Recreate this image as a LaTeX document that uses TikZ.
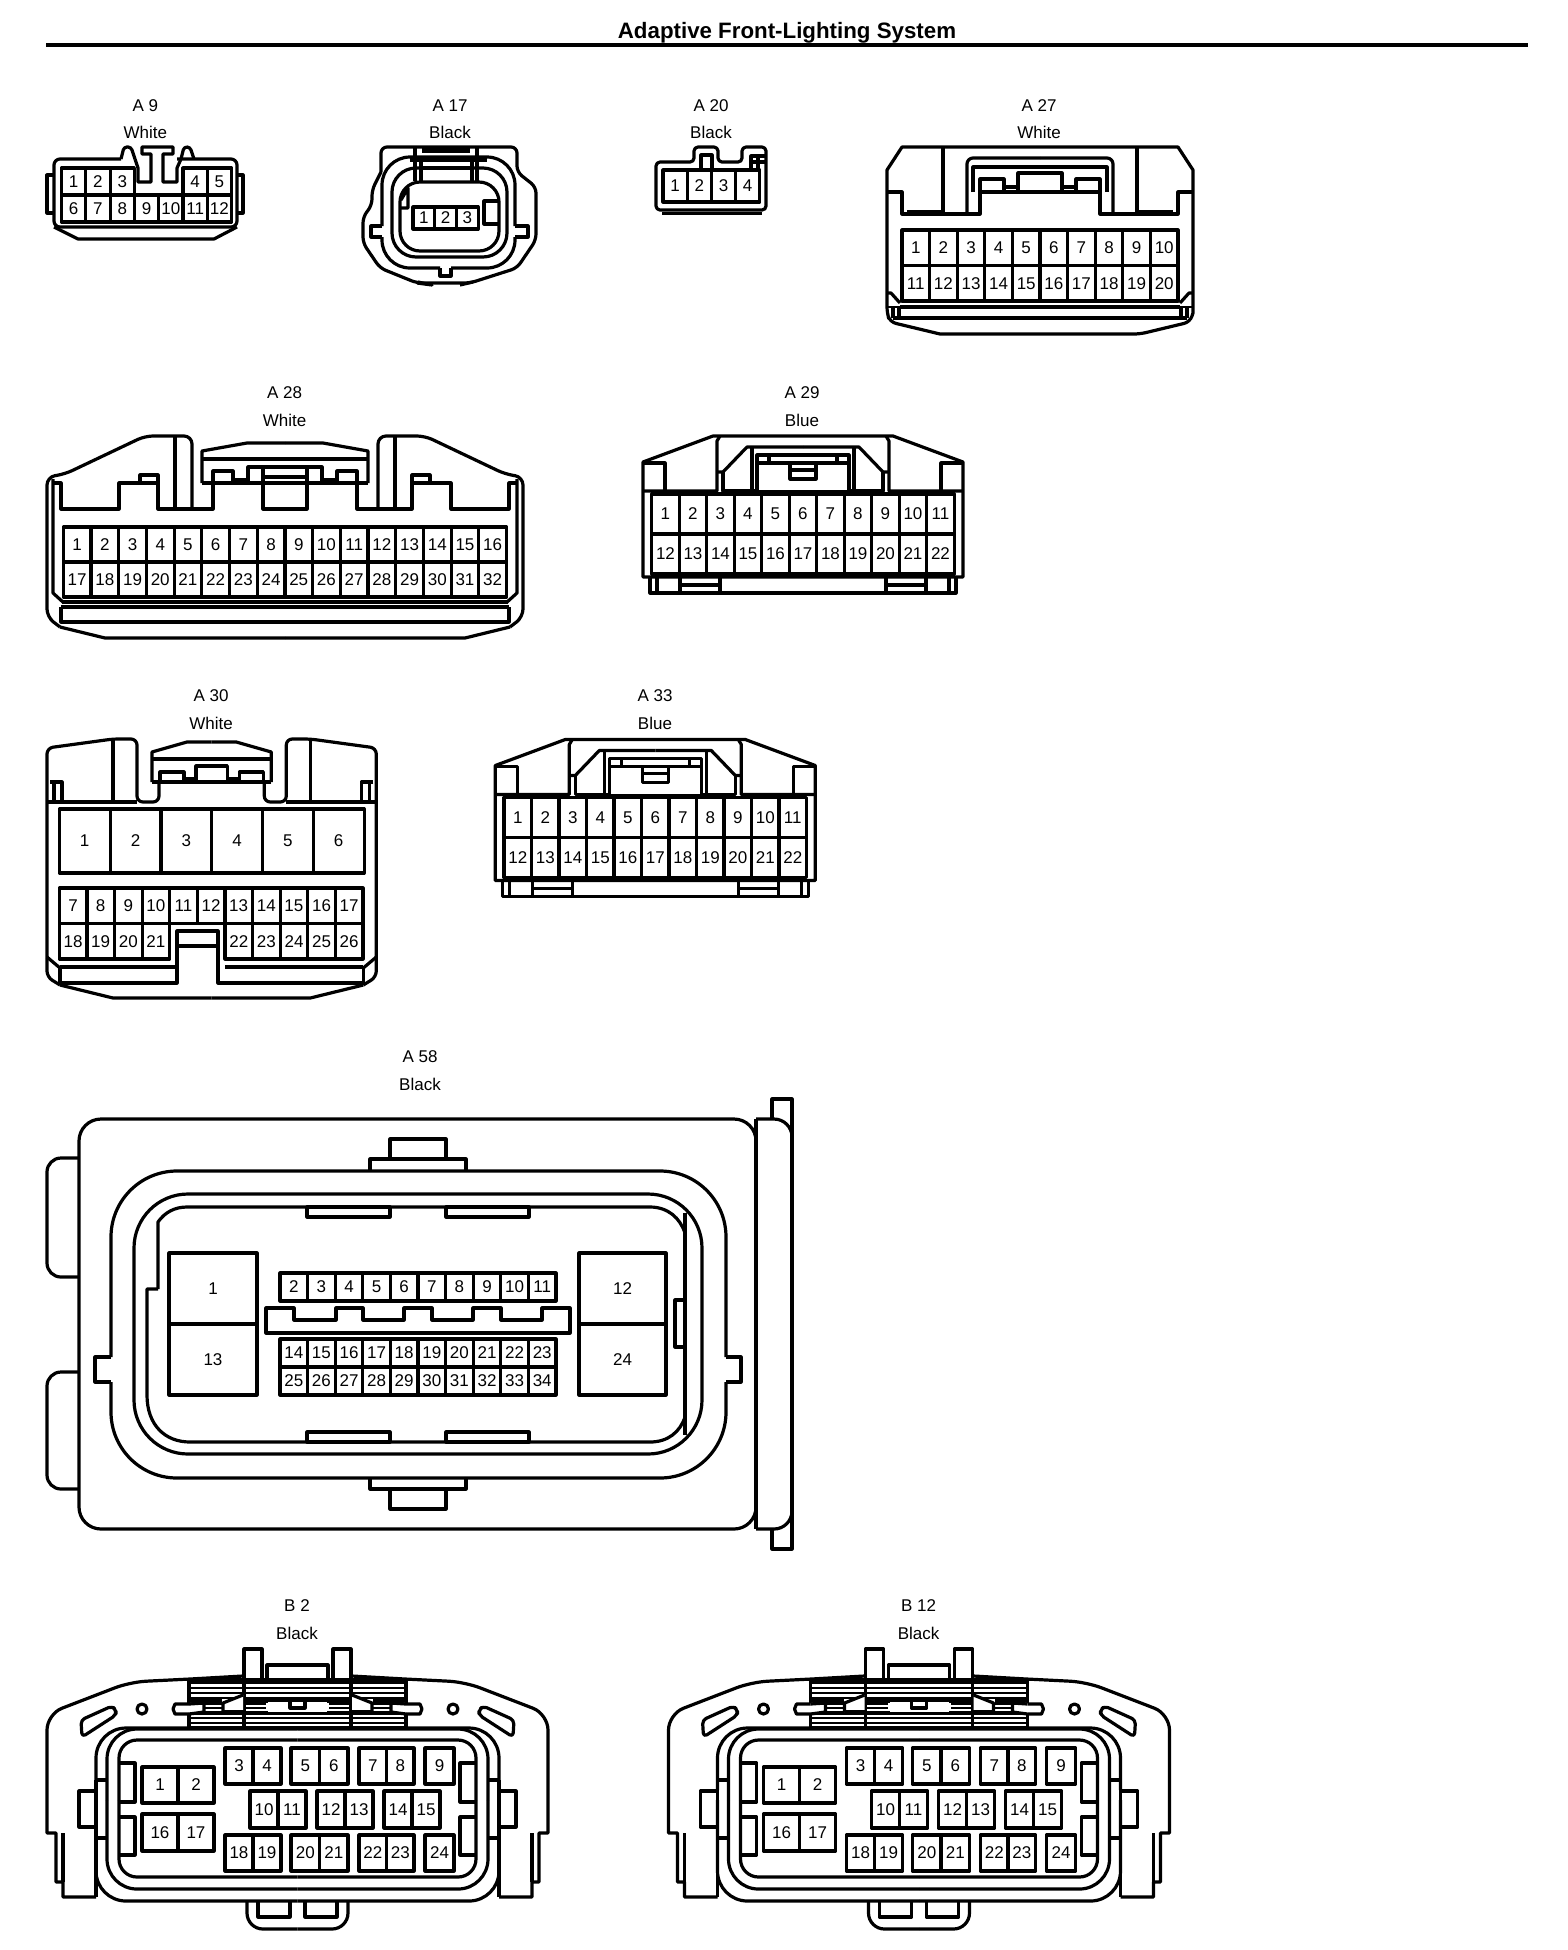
\documentclass[tikz,border=0pt]{standalone}
\usepackage{fontspec}
\setmainfont{Liberation Sans}
\usetikzlibrary{positioning}

\tikzset{
	conn/.style={line width=1.6pt,line join=round},
	fine/.style={line width=1pt},
	pinnum/.style={font=\fontsize{8.5}{10}\selectfont,inner sep=0pt},
	tag/.style={font=\fontsize{8.5}{10}\selectfont,inner sep=0pt}
}

% one row of pins: prefix, left, top, width, height, numbers
\newcommand{\pinrow}[6]{
	\foreach \n [count=\i from 0] in {#6}{
		\draw[conn] ({#2+\i*#4},#3) rectangle ++(#4,#5);
		\node[pinnum] (#1\n) at ({#2+(\i+.5)*#4},{#3+.5*#5}) {\n};
	}
}

% draws a half, then its mirror image about x = #1/2
\newcommand{\mirrored}[2]{
	#2
	\begin{scope}[shift={(#1,0)},xscale=-1]
		#2
	\end{scope}
}

% the two blue connectors, A 29 at its own place
\newcommand{\blueconn}[1]{
	\draw[conn] (643,577) -- (643,462) -- (713,436) -- (893,436) -- (963,462) -- (963,577) -- cycle;
	\mirrored{1606}{
		\draw[conn] (643,463) -- (665,463) -- (665,491);
		\draw[conn] (643,491) -- (717,491) -- (717,441) -- (720,436);
		\draw[conn] (717,472) -- (723,472) -- (747,447) -- (803,447);
		\draw[conn] (723,472) -- (723,491) -- (757,491);
		\draw[conn] (752,447) -- (752,491);
		\draw[conn] (757,492) -- (757,455) -- (803,455);
		\draw[conn] (757,463) -- (803,463);
		\draw[conn] (769,455) -- (769,463);
		\draw[conn] (650,577) -- (650,593) -- (803,593);
		\draw[conn] (657,577) -- (657,593);
		\draw[conn] (680,577) -- (680,593);
		\draw[conn] (720,577) -- (720,593);
		\draw[conn] (680,585) -- (720,585);
	}
	\draw[conn] (790,463) -- (790,479) -- (816,479) -- (816,463);
	\draw[conn] (790,470) -- (816,470);
	\draw[conn] (757,492) -- (849,492);
	\pinrow{#1t}{651.7}{494}{27.5}{40}{1,2,3,4,5,6,7,8,9,10,11}
	\pinrow{#1b}{651.7}{534}{27.5}{40}{12,13,14,15,16,17,18,19,20,21,22}
}

% the two black connectors, B 2 at its own place
\newcommand{\blackconn}[1]{
	\mirrored{595}{
		\draw[conn] (96,1897) -- (63,1897) -- (63,1882) -- (56,1882) -- (56,1833) -- (47,1833) -- (47,1730) [rounded corners=8pt] -- (47,1714) -- (130,1682) [sharp corners] -- (190,1679) -- (243,1676);
		\draw[conn] (63,1833) -- (63,1882);
		\draw[conn] (96,1897) -- (96,1780);
		\draw[conn] (96,1780) -- (107,1780);
		\draw[conn] (96,1838) -- (107,1838);
		\draw[conn] (79,1791) rectangle (96,1827);
		\draw[conn] (244,1728) -- (244,1649) -- (262,1649) -- (262,1680);
		\draw[conn] (189,1680) -- (189,1728);
		\foreach \y in {1683,1688,1693,1698,1713,1718,1723}
			\draw[fine] (189,\y) -- (297.5,\y);
		\draw[conn] (189,1728) -- (297.5,1728);
		\draw[conn] (189,1680) -- (297.5,1680);
		\draw[conn] (189,1701) -- (222,1701);
		\draw[conn] (244,1701) -- (297.5,1701);
		\draw[conn] (189,1713) -- (297.5,1713);
		\fill[white] (175,1704) -- (204,1702) -- (204,1712) -- (175,1714) -- cycle;
		\draw[conn] (189,1704) -- (175,1704) -- (173,1709) -- (175,1714) -- (189,1714);
		\draw[conn] (189,1704) -- (204,1703) -- (204,1712) -- (189,1714);
		\foreach \y in {1704,1708}
			\draw[fine] (204,\y) -- (223,\y);
		\fill[white] (223,1703) -- (243,1695) -- (243,1712) -- (223,1712) -- cycle;
		\draw[conn] (223,1712) -- (223,1703) -- (243,1695);
		\draw[conn] (223,1712) -- (244,1712);
		\foreach \y in {1704,1708}
			\draw[fine] (244,\y) -- (266,\y);
		\draw[conn] (142,1709) circle (5);
		\draw[conn,rounded corners=2pt] (81,1720) -- (112,1706) -- (116,1710) -- (116,1715) -- (82,1737) -- cycle;
		\draw[conn,rounded corners=15pt] (96,1790) -- (96,1728) -- (297.5,1728);
		\draw[conn,rounded corners=15pt] (96,1800) -- (96,1901) -- (297.5,1901);
		\draw[conn,rounded corners=15pt] (107,1800) -- (107,1729) -- (297.5,1729);
		\draw[conn,rounded corners=15pt] (107,1800) -- (107,1889) -- (297.5,1889);
		\draw[conn,rounded corners=9pt] (119,1800) -- (119,1740) -- (297.5,1740);
		\draw[conn,rounded corners=9pt] (119,1800) -- (119,1877) -- (297.5,1877);
		\draw[conn] (119,1763) -- (135,1763) -- (135,1802) -- (119,1802);
		\draw[conn] (119,1817) -- (135,1817) -- (135,1855) -- (119,1855);
		\draw[conn,rounded corners=8pt] (247,1902) -- (247,1929) -- (297.5,1929);
		\draw[conn] (258,1902) -- (258,1917) -- (290,1917) -- (290,1902);
	}
	\fill[white] (268,1702) rectangle (327,1712);
	\draw[conn] (267,1680) -- (267,1665) -- (328,1665) -- (328,1680);
	\draw[conn] (290,1701) -- (290,1708) -- (305,1708) -- (305,1701);
	\pinrow{#1a}{142}{1767}{36}{36}{1,2}
	\pinrow{#1b}{142}{1814}{36}{37}{16,17}
	\pinrow{#1c}{225}{1748}{28}{36}{3,4}
	\pinrow{#1d}{291}{1748}{28.5}{36}{5,6}
	\pinrow{#1e}{359}{1748}{27.5}{36}{7,8}
	\pinrow{#1f}{425}{1748}{29}{36}{9}
	\pinrow{#1g}{250}{1791}{28}{37}{10,11}
	\pinrow{#1h}{317}{1791}{28}{37}{12,13}
	\pinrow{#1i}{384}{1791}{28}{37}{14,15}
	\pinrow{#1j}{225}{1835}{28}{36}{18,19}
	\pinrow{#1k}{291}{1835}{28.5}{36}{20,21}
	\pinrow{#1l}{359}{1835}{27.5}{36}{22,23}
	\pinrow{#1m}{425}{1835}{29}{36}{24}
}

\begin{document}
\begin{tikzpicture}[x=.5pt,y=-.5pt]
	\useasboundingbox (0,0) rectangle (1568,1950);

	\node[font=\bfseries\fontsize{11.15}{13}\selectfont,inner sep=0pt] (title) at (787,32.5) {Adaptive Front-Lighting System};
	\draw[line width=2pt] (46,45) -- (1528,45);

	% A 9
	\node[tag] (a9name) at (145.4,105.5) {A 9};
	\node[tag] (a9color) at (145.4,132.5) {White};
	\draw[conn,rounded corners=3pt] (121,159) -- (54,159) -- (54,227) -- (237,227) -- (237,159) -- (177,159);
	\draw[conn] (54,227) -- (78,239) -- (214,239) -- (237,227);
	\draw[conn] (54,175) -- (47,175) -- (47,213) -- (54,213);
	\draw[conn] (237,175) -- (243,175) -- (243,213) -- (237,213);
	\draw[conn,rounded corners=1.5pt] (121,159) -- (124,147) -- (131,147) -- (135,159);
	\draw[conn,rounded corners=1.5pt] (181,159) -- (184,147) -- (190,147) -- (194,159);
	\draw[conn] (135,159) -- (138,168) -- (138,182) -- (151,182) -- (151,154) -- (142,154) -- (142,147) -- (173,147) -- (173,154) -- (163,154) -- (163,182) -- (177,182) -- (177,168) -- (181,159);
	\pinrow{a9a}{61.5}{168}{24.3}{27}{1,2,3}
	\pinrow{a9b}{183}{168}{24.3}{27}{4,5}
	\pinrow{a9c}{61.5}{195}{24.3}{27}{6,7,8,9,10,11,12}

	% A 17
	\node[tag] (a17name) at (450,105.5) {A 17};
	\node[tag] (a17color) at (450,132.5) {Black};
	\draw[conn,rounded corners=3pt] (381,172) -- (381,147) -- (517,147) -- (517,172) -- (536,187) -- (536,240) -- (517,268) -- (470,283) -- (417,283) -- (380,268) -- (363,243) -- (363,217) -- (372,205) -- (372,190) -- (381,172);
	\draw[conn,rounded corners=14pt] (382,226) -- (382,157) -- (515,157) -- (515,226);
	\draw[conn] (382,226) -- (371,226) -- (371,237) -- (382,237);
	\draw[conn] (515,226) -- (528,226) -- (528,237) -- (515,237);
	\draw[conn,rounded corners=14pt] (382,237) -- (382,268) -- (440,268);
	\draw[conn,rounded corners=14pt] (515,237) -- (515,268) -- (451,268);
	\draw[conn] (440,268) -- (440,276) -- (451,276) -- (451,268);
	\draw[conn,rounded corners=12pt] (392,168) rectangle (507,257);
	\draw[conn,rounded corners=10pt] (400,182) rectangle (499,251);
	\draw[conn] (415,147) -- (415,181);
	\draw[conn] (421,160) -- (421,181);
	\draw[conn] (477,147) -- (477,181);
	\draw[conn] (472,160) -- (472,181);
	\draw[conn] (410,160) -- (487,160);
	\draw[line width=3pt] (422,150) -- (470,150);
	\draw[conn] (421,168) -- (472,168);
	\draw[conn] (401,200) -- (408,188) -- (408,208) -- (401,208);
	\draw[conn] (499,201) -- (484,201) -- (484,224) -- (499,224);
	\draw[conn] (418,282) -- (432,285) -- (417,283);
	\draw[conn] (460,285) -- (473,282);
	\pinrow{a17p}{413}{207}{21.7}{22}{1,2,3}

	% A 20
	\node[tag] (a20name) at (711,105.5) {A 20};
	\node[tag] (a20color) at (711,132.5) {Black};
	\draw[conn,rounded corners=2pt] (694,162) -- (656,162) -- (656,210) -- (766,210) -- (766,147) -- (742,147) -- (742,162) -- (718,162) -- (718,147) -- (694,147) -- cycle;
	\draw[conn] (662,213.5) -- (762,213.5);
	\draw[conn] (701,168) -- (701,155) -- (712,155) -- (712,168);
	\draw[conn] (751,168) -- (751,156) -- (766,156);
	\draw[conn] (758,156) -- (758,168);
	\draw[conn] (751,162) -- (766,162);
	\pinrow{a20p}{663}{170}{24.2}{32}{1,2,3,4}

	% A 27
	\node[tag] (a27name) at (1039,105.5) {A 27};
	\node[tag] (a27color) at (1039,132.5) {White};
	\draw[conn] (887,313) -- (887,170) -- (902,147) -- (1178,147) -- (1193,170) -- (1193,313) [rounded corners=3pt] -- (1190,322) -- (1140,334) [sharp corners] -- (940,334) [rounded corners=3pt] -- (890,322) -- cycle;
	\mirrored{2080}{
		\draw[conn] (887,192) -- (902,192) -- (902,214) -- (980,214) -- (980,192) -- (1040,192);
		\draw[fine] (907,211) -- (943,211);
		\draw[conn,rounded corners=2pt] (943,214) -- (943,147);
		\draw[conn,rounded corners=3pt] (967,214) -- (967,158) -- (1040,158);
		\draw[conn] (973,192) -- (973,167) -- (1040,167);
		\draw[conn] (980,192) -- (980,179) -- (1004,179) -- (1004,192);
		\draw[conn] (1004,187) -- (1018,187);
		\draw[conn] (1018,192) -- (1018,173) -- (1040,173);
		\draw[conn] (900,307) -- (1040,307);
		\draw[conn] (893,318) -- (1040,318);
		\draw[conn] (887,293) -- (891,293) -- (900,303);
		\draw[fine] (887,307) -- (900,307);
		\draw[conn] (893,307) -- (893,318);
		\draw[conn] (899,307) -- (899,318);
	}
	\pinrow{a27t}{902}{230}{27.6}{35.5}{1,2,3,4,5,6,7,8,9,10}
	\pinrow{a27b}{902}{265.5}{27.6}{35.5}{11,12,13,14,15,16,17,18,19,20}

	% A 28
	\node[tag] (a28name) at (284.6,393) {A 28};
	\node[tag] (a28color) at (284.6,420) {White};
	\mirrored{570}{
		\draw[conn,rounded corners=4pt] (192,509) -- (192,436) -- (145,436) -- (65,474) -- (47,477) -- (47,617) -- (60,627);
		\draw[conn] (60,627) -- (105,638) -- (285,638);
		\draw[conn] (175,436) -- (175,509);
		\draw[conn] (53,479) -- (53,593) -- (64,603);
		\draw[conn] (54,483) -- (61,483) -- (61,509) -- (119,509) -- (119,483) -- (158,483) -- (158,509) -- (213,509) -- (213,483);
		\draw[conn] (140,483) -- (140,475) -- (158,475) -- (158,483);
		\draw[conn] (202,483) -- (202,451) -- (247,443) -- (285,443);
		\draw[conn] (202,459) -- (285,459);
		\draw[conn] (202,483) -- (285,483);
		\draw[conn] (213,483) -- (213,471) -- (233,471) -- (233,483);
		\draw[conn] (233,480) -- (248,480);
		\draw[conn] (248,483) -- (248,467) -- (285,467);
		\draw[conn] (263,467) -- (263,509) -- (285,509);
		\draw[conn] (263,477) -- (285,477);
		\draw[conn] (62,602) -- (285,602);
		\draw[conn] (61,607) -- (285,607);
		\draw[conn] (61,607) -- (61,622) -- (285,622);
	}
	\pinrow{a28t}{63.3}{527}{27.7}{35}{1,2,3,4,5,6,7,8,9,10,11,12,13,14,15,16}
	\pinrow{a28b}{63.3}{562}{27.7}{35}{17,18,19,20,21,22,23,24,25,26,27,28,29,30,31,32}

	% A 29
	\node[tag] (a29name) at (802,393) {A 29};
	\node[tag] (a29color) at (802,420) {Blue};
	\blueconn{a29}

	% A 30
	\node[tag] (a30name) at (211,696) {A 30};
	\node[tag] (a30color) at (211,723.5) {White};
	\mirrored{423.3}{
		\draw[conn,rounded corners=3pt] (159,782) -- (159,802) -- (137,802) -- (137,739) -- (113,739) -- (47,748) -- (47,977) -- (60,985);
		\draw[conn] (60,985) -- (113,998) -- (211.6,998);
		\draw[conn] (113,739) -- (113,802);
		\draw[conn] (62,802) -- (137,802);
		\draw[conn] (50,782) -- (62,782) -- (62,802);
		\draw[conn] (54,782) -- (54,802);
		\draw[conn] (47,802) -- (62,802);
		\draw[conn] (47,957) -- (60,968);
		\draw[conn] (152,782) -- (152,752) -- (187,742) -- (211.6,742);
		\draw[conn] (152,759) -- (211.6,759);
		\draw[conn] (152,782) -- (211.6,782);
		\draw[conn] (160,782) -- (160,772) -- (184,772) -- (184,782);
		\draw[conn] (184,779) -- (196,779);
		\draw[conn] (196,782) -- (196,766) -- (211.6,766);
		\draw[conn] (60,967) -- (60,983);
	}
	\draw[conn] (60,967) -- (177,967);
	\draw[conn] (225,967) -- (363,967);
	\draw[conn] (60,983) -- (177,983) -- (177,931) -- (218,931) -- (218,983) -- (363,983);
	\draw[conn] (177,946) -- (218,946);
	\pinrow{a30a}{59.3}{809}{50.8}{64}{1,2,3,4,5,6}
	\pinrow{a30b}{59.3}{888}{27.6}{35.5}{7,8,9,10,11,12,13,14,15,16,17}
	\pinrow{a30c}{59.3}{923.5}{27.6}{35.5}{18,19,20,21}
	\pinrow{a30d}{225}{923.5}{27.6}{35.5}{22,23,24,25,26}

	% A 33
	\node[tag] (a33name) at (655,696) {A 33};
	\node[tag] (a33color) at (655,723.5) {Blue};
	\begin{scope}[shift={(-147.7,303.5)}]
		\blueconn{a33}
	\end{scope}

	% A 58
	\node[tag] (a58name) at (420,1056.5) {A 58};
	\node[tag] (a58color) at (420,1084) {Black};
	\draw[conn,rounded corners=11pt] (79,1119) rectangle (756,1529);
	\draw[conn] (756,1119) -- (756,1529);
	\draw[conn] (772,1119) -- (772,1099) -- (792,1099) -- (792,1549) -- (772,1549) -- (772,1529);
	\draw[conn,rounded corners=9pt] (756,1119) -- (792,1119) -- (792,1150);
	\draw[conn,rounded corners=9pt] (756,1529) -- (792,1529) -- (792,1498);
	\draw[conn,rounded corners=7pt] (79,1158) -- (47,1158) -- (47,1277) -- (79,1277);
	\draw[conn,rounded corners=7pt] (79,1372) -- (47,1372) -- (47,1489) -- (79,1489);
	% rings
	\draw[conn,rounded corners=33pt] (111,1357) -- (111,1171) -- (726,1171) -- (726,1357);
	\draw[conn,rounded corners=33pt] (111,1382) -- (111,1478) -- (726,1478) -- (726,1382);
	\draw[conn] (111,1357) -- (95,1357) -- (95,1382) -- (111,1382);
	\draw[conn] (726,1357) -- (741,1357) -- (741,1382) -- (726,1382);
	\draw[conn,rounded corners=27pt] (134,1194) rectangle (702,1454);
	\draw[conn] (158,1289) -- (147,1289) -- (147,1395) .. controls (147,1425) and (165,1442) .. (190,1442) -- (650,1442) .. controls (668,1442) and (680,1432) .. (685,1417);
	\draw[conn] (158,1289) -- (158,1222) .. controls (165,1212) and (175,1207) .. (187,1207) -- (650,1207) .. controls (668,1207) and (680,1218) .. (685,1233);
	\draw[conn] (685,1213) -- (685,1435);
	\draw[conn] (675,1300) rectangle (685,1347);
	% tabs
	\foreach \x in {307,446}{
		\draw[conn] (\x,1207) rectangle ++(83,10);
		\draw[conn] (\x,1432) rectangle ++(83,10);
	}
	\draw[conn] (390,1159) -- (390,1139) -- (446,1139) -- (446,1159);
	\draw[conn] (370,1171) -- (370,1159) -- (466,1159) -- (466,1171);
	\draw[conn] (370,1478) -- (370,1489) -- (466,1489) -- (466,1478);
	\draw[conn] (390,1489) -- (390,1509) -- (446,1509) -- (446,1489);
	% keyway
	\draw[conn] (266,1308) -- (294,1308) -- (294,1320) -- (336,1320) -- (336,1308) -- (363,1308) -- (363,1320) -- (404,1320) -- (404,1308) -- (432,1308) -- (432,1320) -- (473,1320) -- (473,1308) -- (501,1308) -- (501,1320) -- (542,1320) -- (542,1308) -- (570,1308) -- (570,1333) -- (266,1333) -- cycle;
	\pinrow{a58a}{169}{1253}{88}{71}{1}
	\pinrow{a58b}{169}{1324}{88}{71}{13}
	\pinrow{a58c}{579}{1253}{87}{71}{12}
	\pinrow{a58d}{579}{1324}{87}{71}{24}
	\pinrow{a58e}{280}{1273}{27.6}{28}{2,3,4,5,6,7,8,9,10,11}
	\pinrow{a58f}{280}{1339}{27.6}{28}{14,15,16,17,18,19,20,21,22,23}
	\pinrow{a58g}{280}{1367}{27.6}{28}{25,26,27,28,29,30,31,32,33,34}

	% B 2
	\node[tag] (b2name) at (297,1606) {B 2};
	\node[tag] (b2color) at (297,1633.5) {Black};
	\blackconn{b2}

	% B 12
	\node[tag] (b12name) at (918.6,1606) {B 12};
	\node[tag] (b12color) at (918.6,1633.5) {Black};
	\begin{scope}[shift={(621.5,0)}]
		\blackconn{b12}
	\end{scope}
\end{tikzpicture}
\end{document}
